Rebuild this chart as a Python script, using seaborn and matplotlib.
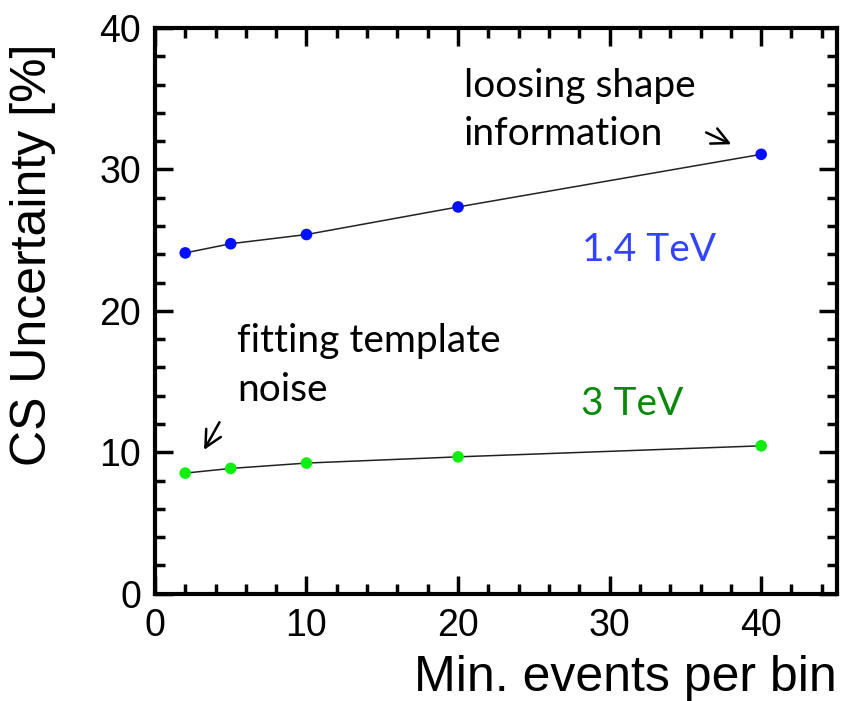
import matplotlib
matplotlib.use("Agg")
import matplotlib.pyplot as plt
import seaborn as sns
import pandas as pd
from matplotlib.ticker import MultipleLocator

# values
min_events = [2, 5, 10, 20, 40]
unc_14tev = [24.1, 24.75, 25.4, 27.35, 31.07]
unc_3tev = [8.53, 8.86, 9.24, 9.68, 10.46]

df = pd.DataFrame({
    "events": min_events * 2,
    "unc": unc_14tev + unc_3tev,
    "energy": ["1.4 TeV"] * 5 + ["3 TeV"] * 5,
})

sns.set_style("ticks")
plt.rcParams["font.family"] = ["Liberation Sans", "DejaVu Sans"]
plt.rcParams["text.color"] = "black"
plt.rcParams["xtick.color"] = "black"
plt.rcParams["ytick.color"] = "black"
plt.rcParams["axes.labelcolor"] = "black"

fig = plt.figure(figsize=(8.42, 7.01), dpi=100)
ax = fig.add_axes([0.184, 0.153, 0.810, 0.807])

# thin black connecting lines, coloured dots on top
sns.lineplot(data=df, x="events", y="unc", units="energy", estimator=None,
             color="#222222", lw=1.1, ax=ax, legend=False)
sns.scatterplot(data=df, x="events", y="unc", hue="energy",
                palette={"1.4 TeV": "#0010ff", "3 TeV": "#10ee10"},
                s=70, edgecolor="none", ax=ax, legend=False, zorder=3)

ax.set_xlim(0, 45)
ax.set_ylim(0, 40)
ax.xaxis.set_major_locator(MultipleLocator(10))
ax.xaxis.set_minor_locator(MultipleLocator(2))
ax.yaxis.set_major_locator(MultipleLocator(10))
ax.yaxis.set_minor_locator(MultipleLocator(2))
ax.tick_params(which="both", direction="in", top=True, right=True,
               labelsize=27, pad=10)
ax.tick_params(which="major", length=13, width=2.5)
ax.tick_params(which="minor", length=7, width=2.5)
for sp in ax.spines.values():
    sp.set_linewidth(3)
    sp.set_color("black")

ax.set_xlabel("Min. events per bin", fontsize=36)
ax.set_ylabel("CS Uncertainty [%]", fontsize=36)
ax.xaxis.set_label_coords(0.69, -0.108)
ax.yaxis.set_label_coords(-0.145, 0.60)

note = dict(family=["Lato", "DejaVu Sans"], fontsize=28)
ax.text(20.4, 35.1, "loosing shape", **note)
ax.text(20.4, 31.7, "information", **note)
ax.text(5.4, 17.1, "fitting template", **note)
ax.text(5.4, 13.6, "noise", **note)
ax.text(28.2, 23.5, "1.4 TeV", color="#3344ff", **note)
ax.text(28.1, 12.65, "3 TeV", color="#0a880a", **note)

arrow = dict(arrowstyle="->", lw=1.8, color="black", mutation_scale=30)
ax.annotate("", xy=(38.2, 31.7), xytext=(36.2, 32.7), arrowprops=arrow)
ax.annotate("", xy=(3.15, 10.0), xytext=(4.35, 12.3), arrowprops=arrow)

fig.savefig("out.png", dpi=100)
